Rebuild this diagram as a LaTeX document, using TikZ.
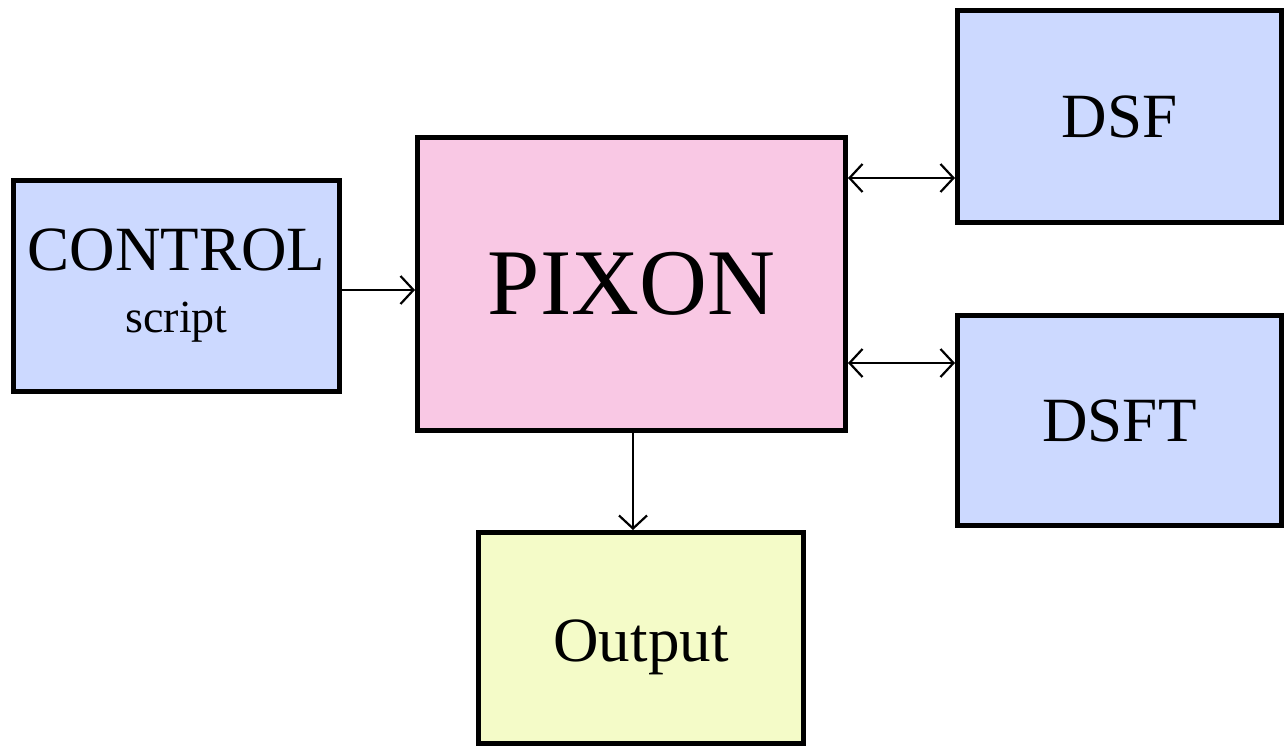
\documentclass[tikz,border=0pt]{standalone}
\usepackage{fontspec}
\setmainfont{Liberation Serif}
\usetikzlibrary{arrows.meta}
\definecolor{boxblue}{RGB}{204,217,255}
\definecolor{boxpink}{RGB}{249,200,228}
\definecolor{boxyellow}{RGB}{244,251,200}
\tikzset{
  blk/.style={draw=black, line width=4.6pt, inner sep=0pt, align=center,
    font=\fontsize{63}{68}\selectfont},
  conn/.style={line width=2.2pt, arrows={-Straight Barb[length=13pt,width=28pt,line width=2.2pt]}},
  bconn/.style={line width=2.2pt, arrows={Straight Barb[length=13pt,width=28pt,line width=2.2pt]-Straight Barb[length=13pt,width=28pt,line width=2.2pt]}}
}
\begin{document}
\begin{tikzpicture}[x=1pt,y=-1pt]
\useasboundingbox (0,0) rectangle (1286,749);
\node[blk, fill=boxblue, minimum width=326.4pt, minimum height=211.4pt] (ctrl) at (176.5,286)
  {CONTROL\\[-6pt]{\fontsize{46}{50}\selectfont script}};
\node[blk, fill=boxpink, minimum width=428.4pt, minimum height=293.4pt,
  font=\fontsize{94}{98}\selectfont] (pix) at (631.5,284) {PIXON};
\node[blk, fill=boxblue, minimum width=324.4pt, minimum height=212.4pt] (dsf) at (1119.5,116.5) {DSF};
\node[blk, fill=boxblue, minimum width=324.4pt, minimum height=210.4pt] (dsft) at (1119.5,420.5) {DSFT};
\node[blk, fill=boxyellow, minimum width=325.4pt, minimum height=211.4pt,
  text depth=0pt] (out) at (641,638) {\raisebox{-5pt}{Output}};
\draw[conn] (ctrl.east |- 0,290) -- (pix.west |- 0,290);
\draw[bconn] (pix.east |- 0,178) -- (dsf.west |- 0,178);
\draw[bconn] (pix.east |- 0,363) -- (dsft.west |- 0,363);
\draw[conn] (pix.south -| 633,0) -- (out.north -| 633,0);
\end{tikzpicture}
\end{document}
